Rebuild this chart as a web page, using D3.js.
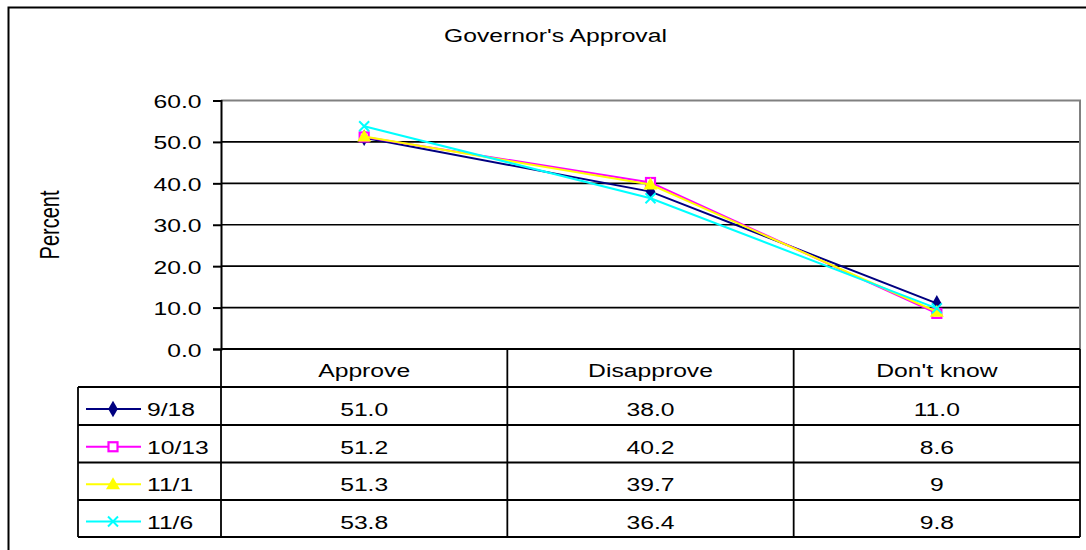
<!DOCTYPE html>
<html>
<head>
<meta charset="utf-8">
<script src="https://cdn.jsdelivr.net/npm/d3@7/dist/d3.min.js"></script>
<style>
  html, body { margin: 0; padding: 0; background: #fff; }
  svg { display: block; }
  text { font-family: "Liberation Sans", Arial, sans-serif; fill: #000; }
</style>
</head>
<body>
<svg id="chart" width="1086" height="550"></svg>
<script>
// ---- data ----
const title = "Governor's Approval";
const yAxisTitle = "Percent";
const categories = ["Approve", "Disapprove", "Don't know"];
const seriesNames = ["9/18", "10/13", "11/1", "11/6"];
const values918 = [51.0, 38.0, 11.0];
const values1013 = [51.2, 40.2, 8.6];
const values111 = [51.3, 39.7, 9];
const values116 = [53.8, 36.4, 9.8];
const labels918 = ["51.0", "38.0", "11.0"];
const labels1013 = ["51.2", "40.2", "8.6"];
const labels111 = ["51.3", "39.7", "9"];
const labels116 = ["53.8", "36.4", "9.8"];
const yTicks = [0, 10, 20, 30, 40, 50, 60];

// ---- style ----
const colors = ["#000080", "#FF00FF", "#FFFF00", "#00FFFF"];
const markers = ["diamond", "square", "triangle", "x"];
const SX = 1.3;       // horizontal stretch of text
const FS = 19;        // font size

const series = [
  { name: seriesNames[0], values: values918, labels: labels918 },
  { name: seriesNames[1], values: values1013, labels: labels1013 },
  { name: seriesNames[2], values: values111, labels: labels111 },
  { name: seriesNames[3], values: values116, labels: labels116 }
];

const svg = d3.select("#chart");

const plotL = 221, plotR = 1080, plotT = 100.5, plotB = 349;
const legL = 78;
const rowEdges = [349, 387, 425, 462.5, 500, 537];

const x = d3.scaleBand().domain(categories).range([plotL, plotR]);
const cx = c => x(c) + x.bandwidth() / 2;
const y = d3.scaleLinear().domain([0, 60]).range([plotB, plotT]);

function sText(g, px, py, txt, anchor, size, sx) {
  return g.append("text")
    .attr("transform", `translate(${px},${py}) scale(${sx || SX},1)`)
    .attr("text-anchor", anchor || "middle")
    .style("font-size", (size || FS) + "px")
    .text(txt);
}

// outer border
svg.append("rect")
  .attr("x", 8.5).attr("y", 7.5).attr("width", 1100).attr("height", 560)
  .attr("fill", "none").attr("stroke", "#000").attr("stroke-width", 2);

// title
sText(svg, 555.5, 42, title, "middle", FS);

// gridlines
svg.append("g").selectAll("line")
  .data(yTicks.filter(t => t > 0 && t < 60))
  .join("line")
  .attr("x1", plotL).attr("x2", plotR)
  .attr("y1", d => y(d)).attr("y2", d => y(d))
  .attr("stroke", "#000").attr("stroke-width", 1.6);

// plot area border (top & right, gray)
svg.append("path")
  .attr("d", `M${plotL},${y(60)}H${plotR}V${plotB}`)
  .attr("fill", "none").attr("stroke", "#808080").attr("stroke-width", 2);

// y axis
const yAxis = svg.append("g")
  .attr("transform", `translate(${plotL},0)`)
  .call(d3.axisLeft(y).tickValues(yTicks).tickSize(8).tickPadding(11)
    .tickFormat(d3.format(".1f")));
yAxis.select(".domain").attr("stroke", "#000").attr("stroke-width", 2);
yAxis.selectAll(".tick line").attr("stroke", "#000").attr("stroke-width", 2);
yAxis.selectAll(".tick text")
  .attr("x", null).attr("dy", null)
  .attr("transform", `translate(-19.5,7) scale(${SX},1)`)
  .attr("text-anchor", "end")
  .style("font-size", FS + "px")
  .style("font-family", '"Liberation Sans", Arial, sans-serif')
  .attr("fill", "#000");

// y axis title
svg.append("text")
  .attr("transform", `translate(59,225) scale(1.35,1) rotate(-90)`)
  .attr("text-anchor", "middle")
  .style("font-size", "20px")
  .text(yAxisTitle);

// ---- data table ----
const tbl = svg.append("g");
const tStroke = 1.8;
tbl.append("line").attr("x1", plotL).attr("x2", plotR).attr("y1", rowEdges[0]).attr("y2", rowEdges[0])
  .attr("stroke", "#000").attr("stroke-width", 2);
rowEdges.slice(1).forEach(ry => {
  tbl.append("line").attr("x1", legL).attr("x2", plotR).attr("y1", ry).attr("y2", ry)
    .attr("stroke", "#000").attr("stroke-width", tStroke);
});
tbl.append("line").attr("x1", legL).attr("x2", legL).attr("y1", rowEdges[1]).attr("y2", rowEdges[5])
  .attr("stroke", "#000").attr("stroke-width", tStroke);
[plotL, x(categories[1]), x(categories[2]), plotR].forEach(vx => {
  tbl.append("line").attr("x1", vx).attr("x2", vx).attr("y1", rowEdges[0]).attr("y2", rowEdges[5])
    .attr("stroke", "#000").attr("stroke-width", tStroke);
});
categories.forEach(c => {
  sText(tbl, cx(c), (rowEdges[0] + rowEdges[1]) / 2 + 9, c, "middle", FS);
});

function drawMarker(g, type, mx, my, color) {
  if (type === "diamond") {
    g.append("path").attr("d", d3.symbol(d3.symbolDiamond, 80)())
      .attr("transform", `translate(${mx},${my})`).attr("fill", color);
  } else if (type === "square") {
    g.append("rect").attr("x", mx - 4.5).attr("y", my - 4.5).attr("width", 9).attr("height", 9)
      .attr("fill", "#fff").attr("stroke", color).attr("stroke-width", 2.2);
  } else if (type === "triangle") {
    g.append("path").attr("d", d3.symbol(d3.symbolTriangle, 85)())
      .attr("transform", `translate(${mx},${my + 1})`).attr("fill", color);
  } else if (type === "x") {
    g.append("path").attr("d", `M${mx - 5},${my - 5}L${mx + 5},${my + 5}M${mx - 5},${my + 5}L${mx + 5},${my - 5}`)
      .attr("stroke", color).attr("stroke-width", 2).attr("fill", "none");
  }
}

series.forEach((s, i) => {
  const rc = (rowEdges[i + 1] + rowEdges[i + 2]) / 2 + 3;
  tbl.append("line").attr("x1", 86).attr("x2", 141).attr("y1", rc).attr("y2", rc)
    .attr("stroke", colors[i]).attr("stroke-width", 2);
  drawMarker(tbl, markers[i], 113, rc, colors[i]);
  sText(tbl, 147, rc + 7, s.name, "start", FS);
  categories.forEach((c, j) => {
    sText(tbl, cx(c), rc + 7, s.labels[j], "middle", FS);
  });
});

// ---- series lines ----
const line = d3.line().x((d, j) => cx(categories[j])).y(d => y(d));
const plotG = svg.append("g");
series.forEach((s, i) => {
  plotG.append("path").datum(s.values).attr("d", line)
    .attr("fill", "none").attr("stroke", colors[i]).attr("stroke-width", 2);
  s.values.forEach((v, j) => drawMarker(plotG, markers[i], cx(categories[j]), y(v), colors[i]));
});
</script>
</body>
</html>
